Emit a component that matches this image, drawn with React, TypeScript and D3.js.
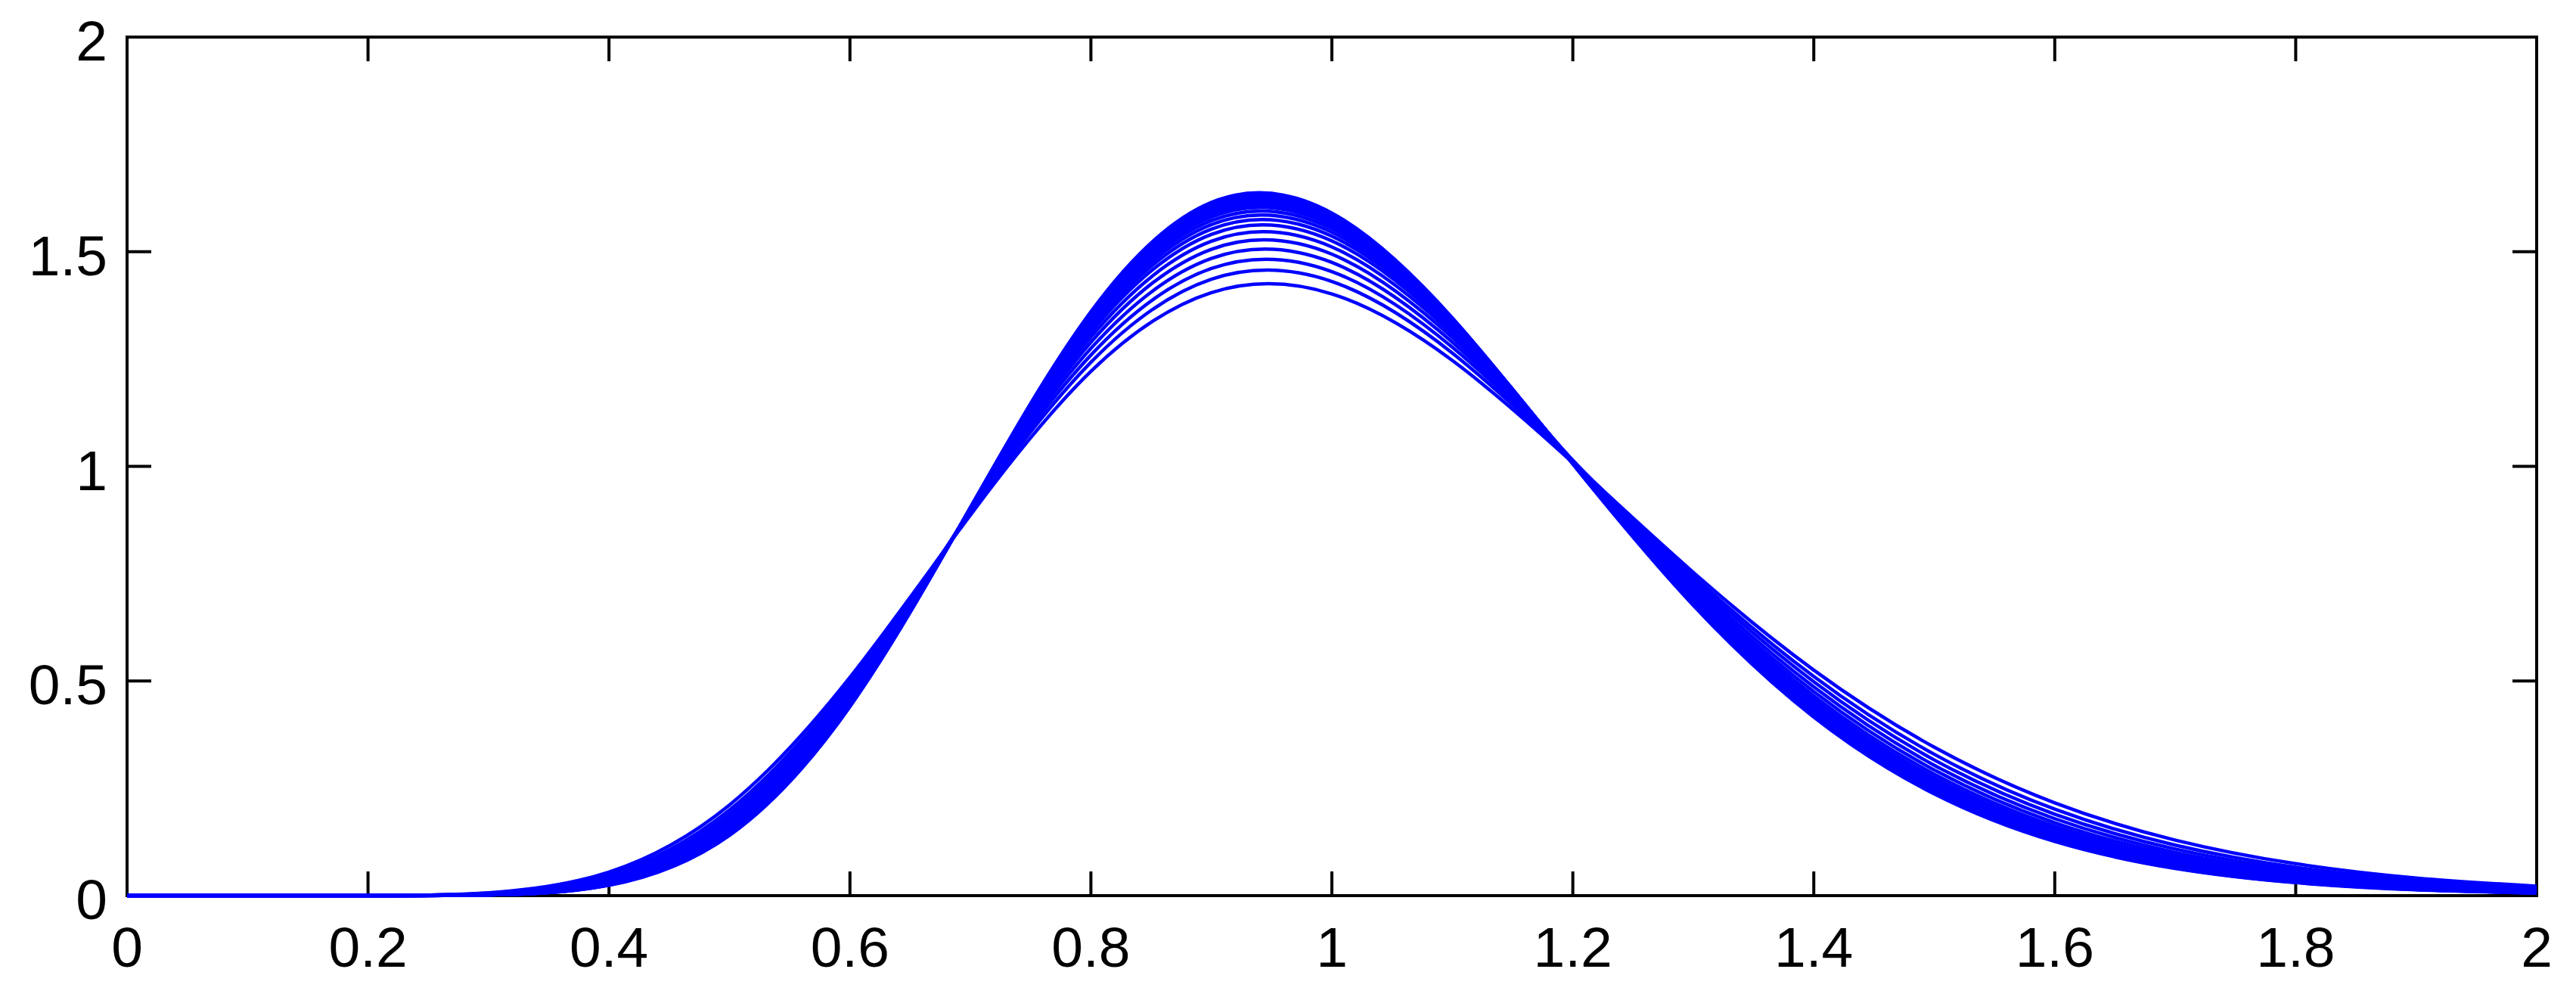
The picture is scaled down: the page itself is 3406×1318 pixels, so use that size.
import React, { useEffect, useRef } from 'react';
import * as d3 from 'd3';

// sample positions along x (every 0.1)
const xValues = [0, 0.1, 0.2, 0.3, 0.4, 0.5, 0.6, 0.7, 0.8, 0.9, 1.0, 1.1, 1.2, 1.3, 1.4, 1.5, 1.6, 1.7, 1.8, 1.9, 2.0];

const xTicks = [0, 0.2, 0.4, 0.6, 0.8, 1, 1.2, 1.4, 1.6, 1.8, 2];
const xTickLabels = ['0', '0.2', '0.4', '0.6', '0.8', '1', '1.2', '1.4', '1.6', '1.8', '2'];
const yTicks = [0, 0.5, 1, 1.5, 2];
const yTickLabels = ['0', '0.5', '1', '1.5', '2'];

// curves, flattest (lowest peak) first
const curve01 = [0, 0, 0.0002, 0.0068, 0.0550, 0.2112, 0.5084, 0.8867, 1.2213, 1.4048, 1.4017, 1.2466, 1.0083, 0.7530, 0.5254, 0.3458, 0.2162, 0.1293, 0.0743, 0.0412, 0.0221];
const curve02 = [0, 0, 0.0002, 0.0056, 0.0490, 0.1996, 0.4988, 0.8905, 1.2424, 1.4359, 1.4306, 1.2639, 1.0113, 0.7445, 0.5105, 0.3293, 0.2014, 0.1176, 0.0659, 0.0355, 0.0185];
const curve03 = [0, 0, 0.0001, 0.0047, 0.0446, 0.1905, 0.4910, 0.8932, 1.2593, 1.4610, 1.4537, 1.2774, 1.0129, 0.7369, 0.4981, 0.3161, 0.1898, 0.1086, 0.0596, 0.0314, 0.0161];
const curve04 = [0, 0, 0.0001, 0.0040, 0.0408, 0.1822, 0.4834, 0.8954, 1.2748, 1.4844, 1.4750, 1.2893, 1.0137, 0.7291, 0.4862, 0.3037, 0.1793, 0.1006, 0.0540, 0.0280, 0.0140];
const curve05 = [0, 0, 0.0001, 0.0035, 0.0376, 0.1750, 0.4766, 0.8973, 1.2889, 1.5057, 1.4942, 1.2997, 1.0137, 0.7217, 0.4753, 0.2927, 0.1700, 0.0938, 0.0494, 0.0251, 0.0122];
const curve06 = [0, 0, 0.0001, 0.0030, 0.0349, 0.1686, 0.4704, 0.8987, 1.3012, 1.5244, 1.5110, 1.3085, 1.0134, 0.7147, 0.4653, 0.2829, 0.1619, 0.0880, 0.0456, 0.0227, 0.0109];
const curve07 = [0, 0, 0.0001, 0.0027, 0.0328, 0.1634, 0.4651, 0.8999, 1.3118, 1.5404, 1.5252, 1.3157, 1.0128, 0.7084, 0.4568, 0.2746, 0.1552, 0.0832, 0.0425, 0.0208, 0.0098];
const curve08 = [0, 0, 0.00004, 0.0025, 0.0312, 0.1595, 0.4612, 0.9006, 1.3197, 1.5525, 1.5360, 1.3210, 1.0120, 0.7035, 0.4502, 0.2683, 0.1503, 0.0797, 0.0403, 0.0195, 0.0090];
const curve09 = [0, 0, 0.00003, 0.0023, 0.0299, 0.1560, 0.4576, 0.9013, 1.3266, 1.5631, 1.5453, 1.3256, 1.0112, 0.6992, 0.4445, 0.2629, 0.1460, 0.0767, 0.0384, 0.0184, 0.0085];
const curve10 = [0, 0, 0.00003, 0.0022, 0.0288, 0.1531, 0.4544, 0.9018, 1.3327, 1.5725, 1.5536, 1.3295, 1.0104, 0.6951, 0.4393, 0.2581, 0.1422, 0.0742, 0.0368, 0.0174, 0.0080];
const curve11 = [0, 0, 0.00003, 0.0020, 0.0279, 0.1506, 0.4518, 0.9023, 1.3380, 1.5806, 1.5606, 1.3328, 1.0096, 0.6917, 0.4349, 0.2540, 0.1391, 0.0720, 0.0354, 0.0167, 0.0076];
const curve12 = [0, 0, 0.00003, 0.0019, 0.0271, 0.1486, 0.4496, 0.9026, 1.3424, 1.5872, 1.5664, 1.3354, 1.0090, 0.6887, 0.4313, 0.2506, 0.1365, 0.0703, 0.0344, 0.0161, 0.0072];
const curve13 = [0, 0, 0.00003, 0.0018, 0.0264, 0.1468, 0.4475, 0.9029, 1.3462, 1.5934, 1.5716, 1.3378, 1.0082, 0.6860, 0.4279, 0.2476, 0.1343, 0.0687, 0.0334, 0.0155, 0.0069];
const curve14 = [0, 0, 0.00002, 0.0018, 0.0259, 0.1452, 0.4457, 0.9032, 1.3497, 1.5988, 1.5763, 1.3399, 1.0076, 0.6836, 0.4249, 0.2450, 0.1322, 0.0673, 0.0326, 0.0150, 0.0067];
const curve15 = [0, 0, 0.00002, 0.0017, 0.0254, 0.1438, 0.4441, 0.9033, 1.3528, 1.6035, 1.5804, 1.3417, 1.0070, 0.6815, 0.4224, 0.2426, 0.1304, 0.0662, 0.0319, 0.0147, 0.0065];
const curve16 = [0, 0, 0.00002, 0.0017, 0.0249, 0.1425, 0.4428, 0.9035, 1.3554, 1.6074, 1.5837, 1.3432, 1.0065, 0.6797, 0.4201, 0.2406, 0.1289, 0.0652, 0.0313, 0.0144, 0.0063];
const curve17 = [0, 0, 0.00002, 0.0016, 0.0246, 0.1414, 0.4414, 0.9037, 1.3580, 1.6115, 1.5873, 1.3447, 1.0059, 0.6778, 0.4178, 0.2386, 0.1274, 0.0642, 0.0307, 0.0140, 0.0061];
const curve18 = [0, 0, 0.00002, 0.0016, 0.0242, 0.1404, 0.4403, 0.9040, 1.3602, 1.6148, 1.5901, 1.3460, 1.0055, 0.6763, 0.4160, 0.2370, 0.1262, 0.0634, 0.0302, 0.0137, 0.0060];

const curves = [
  curve01, curve02, curve03, curve04, curve05, curve06, curve07, curve08, curve09,
  curve10, curve11, curve12, curve13, curve14, curve15, curve16, curve17, curve18,
];

const W = 3406;
const H = 1318;

export default function App() {
  const ref = useRef<SVGSVGElement>(null);

  useEffect(() => {
    const svg = d3.select(ref.current);
    svg.selectAll('*').remove();

    const margin = { top: 49, right: W - 3354, bottom: H - 1184, left: 168 };
    const x = d3.scaleLinear().domain([0, 2]).range([margin.left, W - margin.right]);
    const y = d3.scaleLinear().domain([0, 2]).range([H - margin.bottom, margin.top]);
    const tick = 32;
    const font = "'Liberation Sans', Arial, Helvetica, sans-serif";

    svg.append('rect').attr('width', W).attr('height', H).attr('fill', '#fff');

    const g = svg.append('g');

    // ticks, pointing inward on all four sides
    g.selectAll('line.xb').data(xTicks).enter().append('line')
      .attr('x1', d => x(d)).attr('x2', d => x(d))
      .attr('y1', y(0)).attr('y2', y(0) - tick)
      .attr('stroke', '#000').attr('stroke-width', 4);
    g.selectAll('line.xt').data(xTicks).enter().append('line')
      .attr('x1', d => x(d)).attr('x2', d => x(d))
      .attr('y1', y(2)).attr('y2', y(2) + tick)
      .attr('stroke', '#000').attr('stroke-width', 4);
    g.selectAll('line.yl').data(yTicks).enter().append('line')
      .attr('x1', x(0)).attr('x2', x(0) + tick)
      .attr('y1', d => y(d)).attr('y2', d => y(d))
      .attr('stroke', '#000').attr('stroke-width', 4);
    g.selectAll('line.yr').data(yTicks).enter().append('line')
      .attr('x1', x(2)).attr('x2', x(2) - tick)
      .attr('y1', d => y(d)).attr('y2', d => y(d))
      .attr('stroke', '#000').attr('stroke-width', 4);

    // box
    g.append('rect')
      .attr('x', x(0)).attr('y', y(2))
      .attr('width', x(2) - x(0)).attr('height', y(0) - y(2))
      .attr('fill', 'none').attr('stroke', '#000').attr('stroke-width', 4);

    // tick labels
    g.selectAll('text.xl').data(xTicks).enter().append('text')
      .attr('x', d => x(d)).attr('y', y(0) + 94)
      .attr('text-anchor', 'middle')
      .style('font-family', font).style('font-size', '75px')
      .attr('fill', '#000')
      .text((d, i) => xTickLabels[i]);
    g.selectAll('text.yl').data(yTicks).enter().append('text')
      .attr('x', x(0) - 26).attr('y', d => y(d) + 31)
      .attr('text-anchor', 'end')
      .style('font-family', font).style('font-size', '75px')
      .attr('fill', '#000')
      .text((d, i) => yTickLabels[i]);

    // curves drawn on top of the axes
    const line = d3.line<number>()
      .x((d, i) => x(xValues[i]))
      .y(d => y(d))
      .curve(d3.curveNatural);

    svg.append('g').selectAll('path').data(curves).enter().append('path')
      .attr('d', d => line(d))
      .attr('fill', 'none')
      .attr('stroke', '#0000ff')
      .attr('stroke-width', 4.5)
      .attr('stroke-linejoin', 'round');
  }, []);

  return (
    <svg
      ref={ref}
      width={W}
      height={H}
      style={{ position: 'fixed', left: 0, top: 0, display: 'block' }}
    />
  );
}
